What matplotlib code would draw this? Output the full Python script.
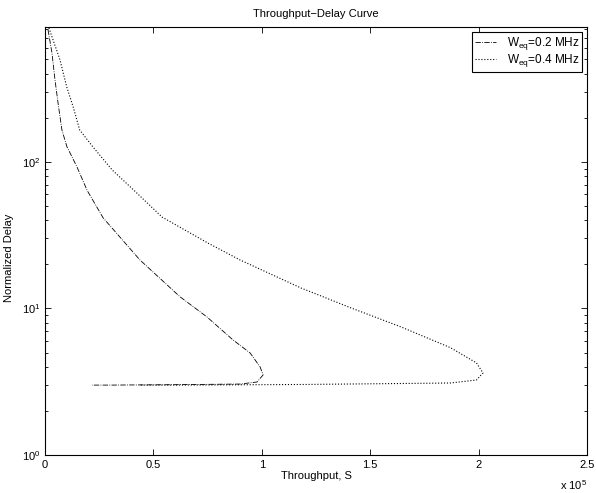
import matplotlib
matplotlib.use("Agg")
import matplotlib.pyplot as plt
from matplotlib.ticker import FuncFormatter, LogLocator, NullFormatter

plt.rcParams['font.family'] = ['Liberation Sans', 'DejaVu Sans']
plt.rcParams['font.size'] = 8

# W_eq = 0.2 MHz curve (throughput, normalized delay)
thr_02 = [1400, 3200, 4600, 6000, 7800, 10100, 14800, 19400, 26800, 43800,
          62300, 74700, 86700, 94600, 99200, 100600, 97800, 90000, 60000,
          30000, 21700]
delay_02 = [796, 555, 363, 253, 165, 127, 92, 64, 41.5, 21.4,
            12.0, 8.75, 6.1, 4.97, 3.99, 3.52, 3.15, 3.05, 3.02,
            3.0, 3.0]

# W_eq = 0.4 MHz curve
thr_04 = [1800, 6900, 10000, 13000, 16000, 22000, 31000, 41000, 54000, 75000,
          90000, 118000, 141000, 164000, 187000, 199000, 202000, 199000,
          187000, 120000, 60000, 43400]
delay_04 = [820, 497, 325, 237, 165, 127, 88, 64, 42, 28,
            21.4, 13.8, 10.1, 7.5, 5.4, 4.25, 3.63, 3.25,
            3.1, 3.03, 3.0, 3.0]

labels = ['W$_{\\mathregular{eq}}$=0.2 MHz', 'W$_{\\mathregular{eq}}$=0.4 MHz']

fig = plt.figure(figsize=(5.96, 4.93), dpi=100)
ax = fig.add_axes([0.0755, 0.077, 0.9095, 0.868])

ax.plot(thr_02, delay_02, color='black', linestyle='-.', linewidth=0.6, label=labels[0])
ax.plot(thr_04, delay_04, color='black', linestyle=':', linewidth=0.8, label=labels[1])

ax.set_yscale('log')
ax.set_xlim(0, 250000)
ax.set_ylim(1, 830)
ax.set_xticks([0, 50000, 100000, 150000, 200000, 250000])
ax.xaxis.set_major_formatter(FuncFormatter(lambda v, p: '%g' % (v / 1e5)))
ax.yaxis.set_minor_locator(LogLocator(base=10, subs=range(2, 10)))
ax.yaxis.set_minor_formatter(NullFormatter())

ax.tick_params(which='both', direction='in', top=True, right=True, width=0.6)
ax.tick_params(which='major', length=4)
ax.tick_params(which='minor', length=2.5)
for s in ax.spines.values():
    s.set_linewidth(0.8)

ax.text(1.0, -0.055, 'x 10$^{\\mathregular{5}}$', transform=ax.transAxes,
        ha='right', va='top', fontsize=8)

ax.set_title('Throughput\u2212Delay Curve', fontsize=8, pad=7)
ax.set_xlabel('Throughput, S', labelpad=1)
ax.set_ylabel('Normalized Delay')
ax.yaxis.set_label_coords(-0.058, 0.46)

leg = ax.legend(loc='upper right', fontsize=8.5, handlelength=1.8, fancybox=False,
                edgecolor='black', framealpha=1, borderpad=0.25, labelspacing=0.0,
                handletextpad=0.9, borderaxespad=0.4)
leg.get_frame().set_linewidth(0.8)

fig.savefig('out.png', dpi=100)
